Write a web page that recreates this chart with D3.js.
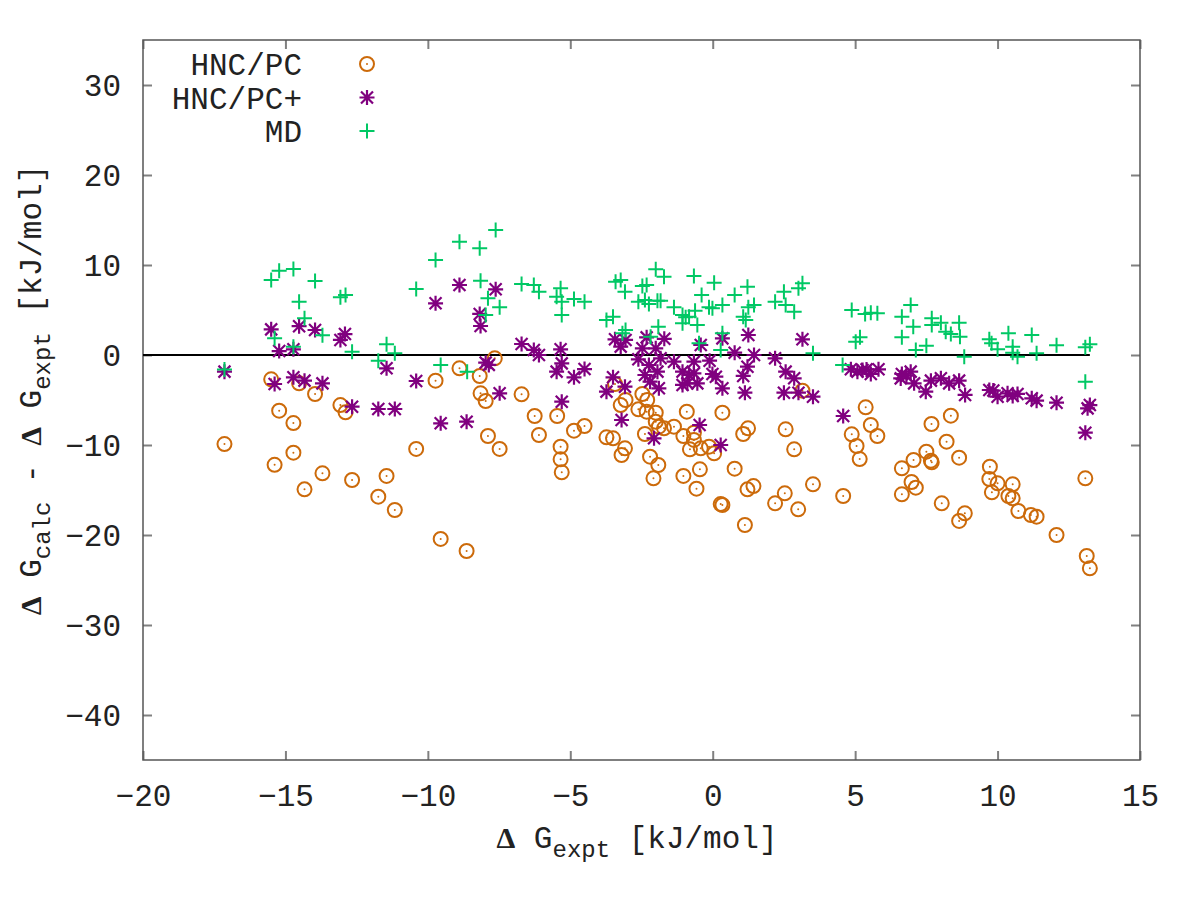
<!DOCTYPE html>
<html>
<head>
<meta charset="utf-8">
<script src="https://cdn.jsdelivr.net/npm/d3@7"></script>
<style>
  html, body { margin: 0; padding: 0; background: #fff; }
  svg { display: block; }
  text { font-family: "Liberation Mono", monospace; fill: #222; }
</style>
</head>
<body>
<svg id="svg" width="1200" height="900"></svg>
<script>
// Series, [dG_expt, dG_calc - dG_expt] in kJ/mol
var hncpc = [
	[-17.14,-9.9],[-15.5,-2.7],[-14.52,-3.15],[-13.96,-4.33],[-15.22,-6.19],
	[-14.72,-7.56],[-14.72,-10.85],[-15.38,-12.2],[-14.33,-14.93],[-13.7,-13.15],
	[-13.07,-5.56],[-12.89,-6.37],[-12.66,-13.89],[-11.45,-13.44],[-11.74,-15.74],
	[-11.16,-17.22],[-10.41,-10.44],[-9.73,-2.85],[-9.55,-20.44],[-8.89,-1.48],
	[-8.64,-21.78],[-8.18,-2.33],[-8.15,-4.26],[-7.97,-5.11],[-7.89,-9.0],
	[-7.48,-10.44],[-7.65,-0.37],[-6.71,-4.37],[-6.25,-6.78],[-6.1,-8.89],
	[-5.46,-6.78],[-5.34,-10.19],[-5.34,-11.59],[-5.3,-13.04],[-4.87,-8.41],
	[-4.5,-7.89],[-3.73,-9.15],[-3.5,-9.26],[-3.43,-3.22],[-3.23,-5.56],
	[-3.06,-5.0],[-3.08,-10.37],[-3.2,-11.11],[-2.47,-4.33],[-2.3,-5.0],
	[-2.61,-6.04],[-2.32,-6.3],[-2.38,-8.78],[-2.0,-6.41],[-2.0,-7.41],
	[-1.89,-7.96],[-2.2,-11.3],[-1.91,-12.22],[-2.08,-13.7],[-1.71,-8.15],
	[-1.36,-7.96],[-0.91,-6.3],[-1.03,-9.0],[-0.66,-8.63],[-0.66,-9.44],
	[-0.8,-10.48],[-0.42,-10.37],[-0.13,-10.19],[0.05,-10.93],[0.34,-6.41],
	[-1.03,-13.44],[-0.45,-12.7],[-0.57,-14.85],[0.28,-16.56],[0.34,-16.67],
	[0.77,-12.63],[1.07,-8.78],[1.24,-8.15],[1.22,-14.93],[1.43,-14.56],
	[1.13,-18.89],[2.56,-8.26],[2.86,-10.48],[3.15,-3.96],[2.19,-16.48],
	[2.53,-15.37],[3.0,-17.15],[3.52,-14.37],[4.58,-15.67],[4.88,-8.81],
	[5.05,-10.11],[5.16,-11.56],[5.37,-5.81],[5.55,-7.78],[5.78,-9.0],
	[6.64,-12.59],[6.64,-15.48],[7.05,-11.67],[6.98,-14.11],[7.13,-14.74],
	[7.5,-10.74],[7.66,-11.74],[7.69,-11.93],[7.68,-7.67],[8.04,-16.48],
	[8.21,-9.63],[8.36,-6.74],[8.65,-11.41],[8.65,-18.44],[8.85,-17.59],
	[9.73,-12.41],[9.71,-13.78],[10.0,-14.26],[9.8,-15.26],[10.53,-14.37],
	[10.38,-15.67],[10.53,-15.93],[10.73,-17.33],[11.17,-17.78],[11.37,-17.96],
	[12.07,-20.0],[13.08,-13.7],[13.13,-22.33],[13.24,-23.7]
];

var hncpcPlus = [
	[-17.14,-1.85],[-15.5,2.85],[-14.52,3.2],[-13.96,2.78],[-15.22,0.44],
	[-14.72,0.63],[-15.38,-3.22],[-14.72,-2.48],[-14.33,-2.85],[-13.7,-3.15],
	[-13.07,1.67],[-12.91,2.33],[-11.45,-1.48],[-12.66,-5.74],[-11.74,-6.0],
	[-11.16,-6.0],[-10.41,-2.89],[-9.73,5.74],[-8.89,7.78],[-9.55,-7.59],
	[-8.64,-7.41],[-8.18,4.56],[-8.15,3.22],[-7.62,7.3],[-7.97,-0.85],
	[-7.86,-1.1],[-7.48,-4.26],[-6.71,1.22],[-6.28,0.56],[-6.1,0.0],
	[-5.34,0.63],[-5.3,-0.93],[-5.48,-1.85],[-5.3,-5.19],[-4.87,-2.48],
	[-4.5,-1.56],[-3.73,-4.07],[-3.5,-2.48],[-3.43,1.74],[-3.23,0.93],
	[-3.06,1.67],[-3.08,-3.52],[-3.2,-7.22],[-2.61,-0.48],[-2.47,0.74],
	[-2.32,1.96],[-2.38,-2.22],[-2.24,-1.11],[-2.2,-2.96],[-2.0,0.74],
	[-1.94,-1.85],[-1.89,-3.7],[-1.83,-0.37],[-2.06,-9.26],[-1.7,1.8],
	[-1.36,-0.74],[-1.06,-1.85],[-1.06,-3.33],[-0.89,-3.15],[-0.83,-2.22],
	[-0.66,-2.04],[-0.66,-0.74],[-0.54,-3.15],[-0.42,1.11],[-0.46,-7.78],
	[-0.11,-0.63],[-0.01,-2.11],[0.11,-2.41],[0.34,1.85],[0.34,-3.7],
	[0.28,-10.0],[0.77,0.26],[1.07,-2.33],[1.22,-1.3],[1.25,2.22],
	[1.13,-4.19],[1.45,0.0],[2.19,-0.37],[2.56,-1.85],[2.86,-2.59],
	[2.5,-4.19],[3.01,-4.19],[3.15,1.74],[3.52,-4.63],[4.58,-6.78],
	[4.85,-1.59],[5.08,-1.85],[5.26,-1.67],[5.4,-1.6],[5.55,-2.11],
	[5.82,-1.59],[6.64,-2.11],[6.6,-2.6],[6.8,-2.3],[6.95,-1.85],
	[7.07,-3.15],[7.48,-4.07],[7.66,-2.85],[8.01,-2.59],[8.3,-3.15],
	[8.65,-2.85],[8.86,-4.44],[9.71,-3.89],[9.85,-3.95],[10.0,-4.63],
	[10.35,-4.26],[10.53,-4.56],[10.7,-4.33],[11.2,-4.81],[11.37,-5.07],
	[12.07,-5.3],[13.16,-5.93],[13.24,-5.56],[13.08,-8.63]
];

var md = [
	[-17.14,-1.6],[-15.5,8.33],[-15.22,9.37],[-14.72,9.55],[-13.96,8.22],
	[-14.52,5.93],[-14.33,4.07],[-15.38,1.85],[-14.72,0.93],[-13.7,2.2],
	[-13.07,6.41],[-12.89,6.67],[-12.66,0.37],[-11.45,1.19],[-11.74,-0.63],
	[-11.16,0.19],[-10.41,7.33],[-9.73,10.56],[-8.89,12.59],[-8.18,11.85],
	[-7.62,13.89],[-8.15,8.26],[-7.89,6.3],[-7.97,4.44],[-9.55,-1.11],
	[-8.62,-1.85],[-7.48,5.3],[-6.71,7.89],[-6.28,7.78],[-6.1,7.04],
	[-5.34,7.41],[-5.48,6.48],[-5.3,5.93],[-5.3,4.44],[-4.87,6.22],
	[-4.5,5.93],[-3.73,3.89],[-3.5,4.26],[-3.41,8.15],[-3.23,8.33],
	[-3.08,7.04],[-3.17,2.41],[-3.06,2.78],[-2.61,5.93],[-2.47,7.67],
	[-2.32,7.78],[-2.38,6.11],[-2.24,5.67],[-1.94,6.04],[-1.83,6.04],
	[-2.0,9.52],[-1.71,8.7],[-1.91,3.15],[-2.18,2.04],[-1.36,5.3],
	[-1.06,4.44],[-0.95,4.19],[-0.83,4.26],[-1.06,3.52],[-0.62,4.93],
	[-0.54,3.33],[-0.66,8.78],[-0.39,6.67],[-0.48,1.3],[-0.13,5.3],
	[0.05,8.04],[-0.01,5.19],[0.34,5.56],[0.34,2.41],[0.28,0.56],
	[0.77,6.67],[1.22,7.59],[1.07,4.26],[1.16,3.89],[1.25,5.3],
	[1.45,5.56],[2.19,5.93],[2.5,7.04],[2.56,5.56],[2.86,4.81],
	[3.01,7.41],[3.15,7.96],[3.52,0.19],[4.56,-1.11],[4.88,5.0],
	[5.02,1.48],[5.17,1.96],[5.35,4.56],[5.55,4.7],[5.78,4.63],
	[6.64,4.26],[6.64,1.96],[6.95,5.56],[7.04,3.15],[7.13,0.56],
	[7.5,1.04],[7.69,4.07],[7.69,3.33],[8.01,3.59],[8.18,2.59],
	[8.36,2.33],[8.65,3.59],[8.68,2.04],[8.83,-0.19],[9.71,1.74],
	[9.79,1.3],[10.0,0.65],[10.38,2.41],[10.53,0.93],[10.53,0.26],
	[10.7,-0.19],[11.2,2.22],[11.37,0.19],[12.07,1.07],[13.08,0.85],
	[13.24,1.19],[13.08,-2.96]
];

var seriesNames = ["HNC/PC", "HNC/PC+", "MD"];
var xTicks = [-20, -15, -10, -5, 0, 5, 10, 15];
var yTicks = [-40, -30, -20, -10, 0, 10, 20, 30];

var svg = d3.select("#svg"),
	plotL = 143, plotR = 1140, plotT = 40, plotB = 760,
	tick = 9;

var x = d3.scaleLinear().domain([-20, 15]).range([plotL, plotR]);
var y = d3.scaleLinear().domain([-45, 35]).range([plotB, plotT]);

// marker shapes, centred on 0,0
var marks = {
	circle : function(g, color){
		g.append("circle").attr("r", 7).attr("fill", "none")
			.attr("stroke", color).attr("stroke-width", 2);
		g.append("circle").attr("r", 1).attr("fill", color);
	},
	star : function(g, color){
		g.append("path").attr("d", "M-7.5,0H7.5M0,-7.5V7.5M-6,-6L6,6M-6,6L6,-6")
			.attr("stroke", color).attr("stroke-width", 2.2).attr("fill", "none");
	},
	plus : function(g, color){
		g.append("path").attr("d", "M-7.5,0H7.5M0,-7.5V7.5")
			.attr("stroke", color).attr("stroke-width", 2).attr("fill", "none");
	}
};

var series = [
	{ name : seriesNames[0], data : hncpc, mark : "circle", color : "#cc6a0a" },
	{ name : seriesNames[1], data : hncpcPlus, mark : "star", color : "#80007f" },
	{ name : seriesNames[2], data : md, mark : "plus", color : "#00c864" }
];

// ticks, mirrored on all four sides
function styleAxis(g){
	g.select(".domain").remove();
	g.selectAll("line").attr("stroke", "#808080").attr("stroke-width", 2);
}

svg.append("g")
	.attr("transform", "translate(0," + plotB + ")")
	.call(d3.axisBottom(x).tickValues(xTicks).tickSize(-tick))
	.call(styleAxis)
	.call(function(g){
		g.selectAll("text").attr("y", 46).attr("dy", null)
			.attr("font-family", "Liberation Mono").attr("font-size", 31).attr("fill", "#222");
	});

svg.append("g")
	.attr("transform", "translate(0," + plotT + ")")
	.call(d3.axisTop(x).tickValues(xTicks).tickSize(-tick).tickFormat(""))
	.call(styleAxis);

svg.append("g")
	.attr("transform", "translate(" + plotL + ",0)")
	.call(d3.axisLeft(y).tickValues(yTicks).tickSize(-tick).tickPadding(22))
	.call(styleAxis)
	.call(function(g){
		g.selectAll("text").attr("dy", "0.34em")
			.attr("font-family", "Liberation Mono").attr("font-size", 31).attr("fill", "#222");
	});

svg.append("g")
	.attr("transform", "translate(" + plotR + ",0)")
	.call(d3.axisRight(y).tickValues(yTicks).tickSize(-tick).tickFormat(""))
	.call(styleAxis);

svg.append("rect")
	.attr("x", plotL).attr("y", plotT)
	.attr("width", plotR - plotL).attr("height", plotB - plotT)
	.attr("fill", "none").attr("stroke", "#555").attr("stroke-width", 1.5);

// zero line over the data range
var allX = hncpc.concat(hncpcPlus, md).map(function(d){ return d[0]; });
svg.append("line")
	.attr("x1", x(-20)).attr("x2", x(d3.max(allX)))
	.attr("y1", y(0)).attr("y2", y(0))
	.attr("stroke", "#000").attr("stroke-width", 2);

series.forEach(function(s){
	svg.append("g").selectAll("g")
		.data(s.data)
		.enter()
		.append("g")
		.attr("transform", function(d){ return "translate(" + x(d[0]) + "," + y(d[1]) + ")"; })
		.each(function(){ marks[s.mark](d3.select(this), s.color); });
});

// legend
series.forEach(function(s, i){
	var base = 75 + i * 33.5;
	svg.append("text")
		.attr("x", 302).attr("y", base)
		.attr("text-anchor", "end")
		.attr("font-size", 31)
		.text(s.name);
	marks[s.mark](svg.append("g").attr("transform", "translate(367," + (base - 11) + ")"), s.color);
});

// axis labels
function label(t, parts){
	parts.forEach(function(p){
		var ts = t.append("tspan").text(p.t);
		if (p.delta) ts.attr("font-family", "Liberation Serif").attr("font-weight", "bold").attr("font-size", 30);
		if (p.sub) ts.attr("font-size", 24).attr("dy", 9);
		if (p.up) ts.attr("dy", -9);
	});
}

var xl = svg.append("text")
	.attr("x", 637).attr("y", 848)
	.attr("text-anchor", "middle")
	.attr("font-size", 31)
	.style("white-space", "pre");
label(xl, [
	{ t : "\u0394", delta : true }, { t : " G" }, { t : "expt", sub : true },
	{ t : " [kJ/mol]", up : true }
]);

var yl = svg.append("text")
	.attr("transform", "translate(41,390) rotate(-90)")
	.attr("text-anchor", "middle")
	.attr("font-size", 31)
	.style("white-space", "pre");
label(yl, [
	{ t : "\u0394", delta : true }, { t : " G" }, { t : "calc", sub : true },
	{ t : " - ", up : true }, { t : "\u0394", delta : true }, { t : " G" },
	{ t : "expt", sub : true }, { t : " [kJ/mol]", up : true }
]);
</script>
</body>
</html>
